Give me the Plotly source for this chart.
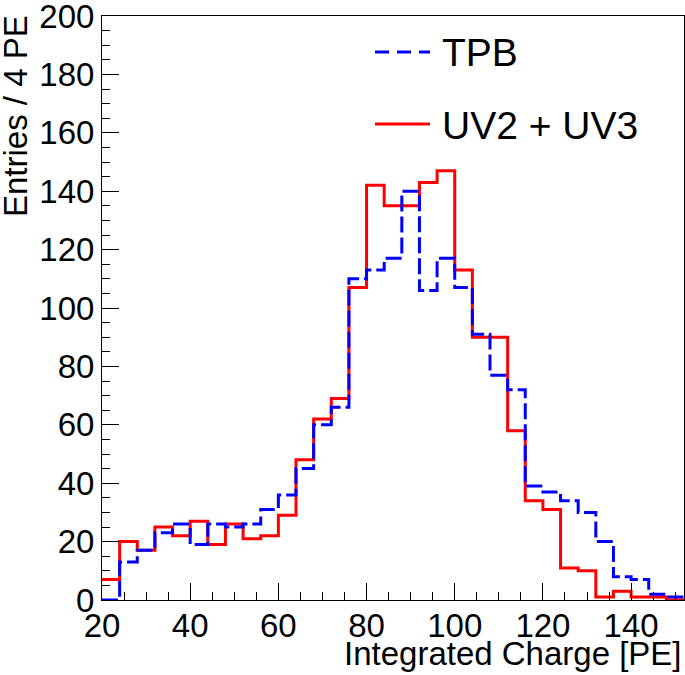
import plotly.graph_objects as go

# Bin edges (4 PE wide) from 20 to 152
bin_low = list(range(20, 152, 4))
x_max = 152

tpb = [0, 13, 17, 23, 26, 19, 26, 25, 26, 31,
       36, 45, 60, 66, 110, 113, 117, 140, 106, 117,
       107, 91, 77, 72, 39, 37, 34, 30, 20, 8,
       7, 2, 1]
uv = [7, 20, 17, 25, 22, 27, 19, 26, 21, 22,
      29, 48, 62, 69, 107, 142, 135, 135, 143, 147,
      113, 90, 90, 58, 34, 31, 11, 10, 1, 3,
      1, 1, 0]

x_ticks = [20, 40, 60, 80, 100, 120, 140]
y_ticks = [0, 20, 40, 60, 80, 100, 120, 140, 160, 180, 200]

FONT = "Liberation Sans, Arial, Helvetica, sans-serif"

def step(vals):
    return bin_low + [x_max], vals + [vals[-1]]

fig = go.Figure()
xs, ys = step(uv)
fig.add_trace(go.Scatter(x=xs, y=ys, mode="lines", line_shape="hv",
                         line=dict(color="#ff0000", width=3), name="UV2 + UV3",
                         showlegend=False))
xs, ys = step(tpb)
fig.add_trace(go.Scatter(x=xs, y=ys, mode="lines", line_shape="hv",
                         line=dict(color="#0000ff", width=3, dash="16px,5px"), name="TPB",
                         showlegend=False))

W, H = 685, 675
L, R, T, B = 102, 1, 16, 75
pw, ph = W - L - R, H - T - B

def px(xpix):
    return (xpix - L) / pw

def py(ypix):
    return (H - B - ypix) / ph

fig.update_layout(
    width=W, height=H,
    margin=dict(l=L, r=R, t=T, b=B, autoexpand=False),
    paper_bgcolor="white", plot_bgcolor="white",
    font=dict(family=FONT, color="black", size=33),
    showlegend=False,
    xaxis=dict(range=[20, x_max], tickvals=x_ticks, ticktext=[str(v) for v in x_ticks],
               ticks="inside", ticklen=17, tickwidth=1, tickcolor="black",
               minor=dict(dtick=5, tick0=20, ticks="inside", ticklen=8, tickwidth=1, tickcolor="black"),
               showline=True, linecolor="black", linewidth=1, mirror=True,
               showgrid=False, zeroline=False, automargin=False,
               ticklabeloverflow="allow", ticklabelstandoff=-4,
               tickfont=dict(family=FONT, size=33, color="black")),
    yaxis=dict(range=[0, 200], tickvals=y_ticks, ticktext=[str(v) for v in y_ticks],
               ticks="inside", ticklen=17, tickwidth=1, tickcolor="black",
               minor=dict(dtick=5, tick0=0, ticks="inside", ticklen=8, tickwidth=1, tickcolor="black"),
               showline=True, linecolor="black", linewidth=1, mirror=True,
               showgrid=False, zeroline=False, automargin=False,
               ticklabeloverflow="allow",
               tickfont=dict(family=FONT, size=33, color="black")),
)

# Axis titles
fig.add_annotation(text="Integrated Charge [PE]", xref="paper", yref="paper",
                   x=1.0, y=py(653), xanchor="right", yanchor="middle",
                   showarrow=False, font=dict(family=FONT, size=33, color="black"))
fig.add_annotation(text="Entries / 4 PE", xref="paper", yref="paper",
                   x=px(16), y=py(13), xanchor="center", yanchor="top", textangle=-90,
                   showarrow=False, font=dict(family=FONT, size=33, color="black"))

# Legend (manual)
fig.add_shape(type="line", xref="paper", yref="paper",
              x0=px(375), x1=px(430), y0=py(52), y1=py(52),
              line=dict(color="#0000ff", width=3, dash="14px,8px"))
fig.add_shape(type="line", xref="paper", yref="paper",
              x0=px(375), x1=px(430), y0=py(124), y1=py(124),
              line=dict(color="#ff0000", width=3))
fig.add_annotation(text="TPB", xref="paper", yref="paper",
                   x=px(440), y=py(52), xanchor="left", yanchor="middle",
                   showarrow=False, font=dict(family=FONT, size=39, color="black"))
fig.add_annotation(text="UV2 + UV3", xref="paper", yref="paper",
                   x=px(440), y=py(125), xanchor="left", yanchor="middle",
                   showarrow=False, font=dict(family=FONT, size=39, color="black"))

fig.write_html("out.html", config={"displayModeBar": False},
               post_script="document.body.style.margin='0';document.body.style.overflow='hidden';")
